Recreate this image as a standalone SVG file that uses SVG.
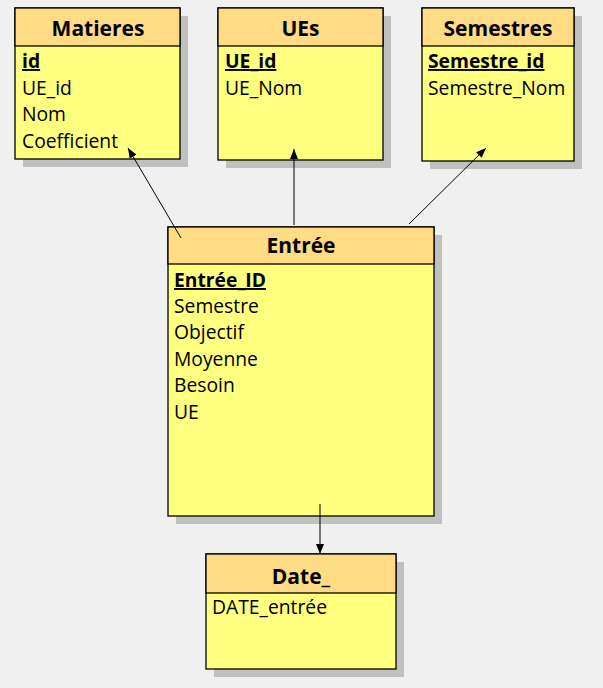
<svg xmlns="http://www.w3.org/2000/svg" width="603" height="688" viewBox="0 0 603 688">
<defs>
<style>
.sh{fill:#c0c0c0}
.hd{fill:#ffdb86;stroke:#000;stroke-width:1.3}
.bd{fill:#ffff80;stroke:#000;stroke-width:1.3}
.t{font-family:"Open Sans","Noto Sans",sans-serif;font-size:21px;font-weight:bold;text-anchor:middle;fill:#000}
.f{font-family:"Open Sans","Noto Sans",sans-serif;font-size:19.3px;fill:#000}
.k{font-weight:bold;text-decoration:underline}
.c{stroke:#000;stroke-width:1;fill:none}
</style>
<marker id="ah" viewBox="0 0 10 8" refX="10" refY="4" markerWidth="10" markerHeight="8" markerUnits="userSpaceOnUse" orient="auto">
<path d="M0,0 L10,4 L0,8 z" fill="#000"/>
</marker>
</defs>
<rect width="603" height="688" fill="#f0f0f0"/>
<g id="Matieres">
<rect class="sh" x="23" y="16" width="165" height="151"/>
<rect class="bd" x="15" y="8" width="165" height="151"/>
<rect class="hd" x="15" y="8" width="165" height="38"/>
<text class="t" x="98" y="36">Matieres</text>
<text class="f k" x="22" y="68">id</text>
<text class="f" x="22" y="95">UE_id</text>
<text class="f" x="22" y="121">Nom</text>
<text class="f" x="22" y="148">Coefficient</text>
</g>
<g id="UEs">
<rect class="sh" x="226" y="16" width="165" height="152"/>
<rect class="bd" x="218" y="8" width="165" height="152"/>
<rect class="hd" x="218" y="8" width="165" height="38"/>
<text class="t" x="300.5" y="36">UEs</text>
<text class="f k" x="225" y="68">UE_id</text>
<text class="f" x="225" y="95">UE_Nom</text>
</g>
<g id="Semestres">
<rect class="sh" x="430" y="16" width="152" height="153"/>
<rect class="bd" x="422" y="8" width="152" height="153"/>
<rect class="hd" x="422" y="8" width="152" height="38"/>
<text class="t" x="498" y="36">Semestres</text>
<text class="f k" x="428" y="68">Semestre_id</text>
<text class="f" x="428" y="95">Semestre_Nom</text>
</g>
<g id="Entree">
<rect class="sh" x="176" y="235" width="266" height="289"/>
<rect class="bd" x="168" y="227" width="266" height="289"/>
<rect class="hd" x="168" y="227" width="266" height="37"/>
<text class="t" x="301" y="253">Entrée</text>
<text class="f k" x="174" y="287">Entrée_ID</text>
<text class="f" x="174" y="313">Semestre</text>
<text class="f" x="174" y="339">Objectif</text>
<text class="f" x="174" y="366">Moyenne</text>
<text class="f" x="174" y="392">Besoin</text>
<text class="f" x="174" y="419">UE</text>
</g>
<g id="Date_">
<rect class="sh" x="214" y="562" width="190" height="115"/>
<rect class="bd" x="206" y="554" width="190" height="115"/>
<rect class="hd" x="206" y="554" width="190" height="39"/>
<text class="t" x="301" y="584">Date_</text>
<text class="f" x="212" y="614">DATE_entrée</text>
</g>
<g id="connectors">
<line class="c" x1="181" y1="238" x2="128" y2="148" marker-end="url(#ah)"/>
<line class="c" x1="294" y1="225" x2="294" y2="149" marker-end="url(#ah)"/>
<line class="c" x1="409" y1="224" x2="486" y2="148" marker-end="url(#ah)"/>
<line class="c" x1="320" y1="504" x2="320" y2="554" marker-end="url(#ah)"/>
</g>
</svg>
